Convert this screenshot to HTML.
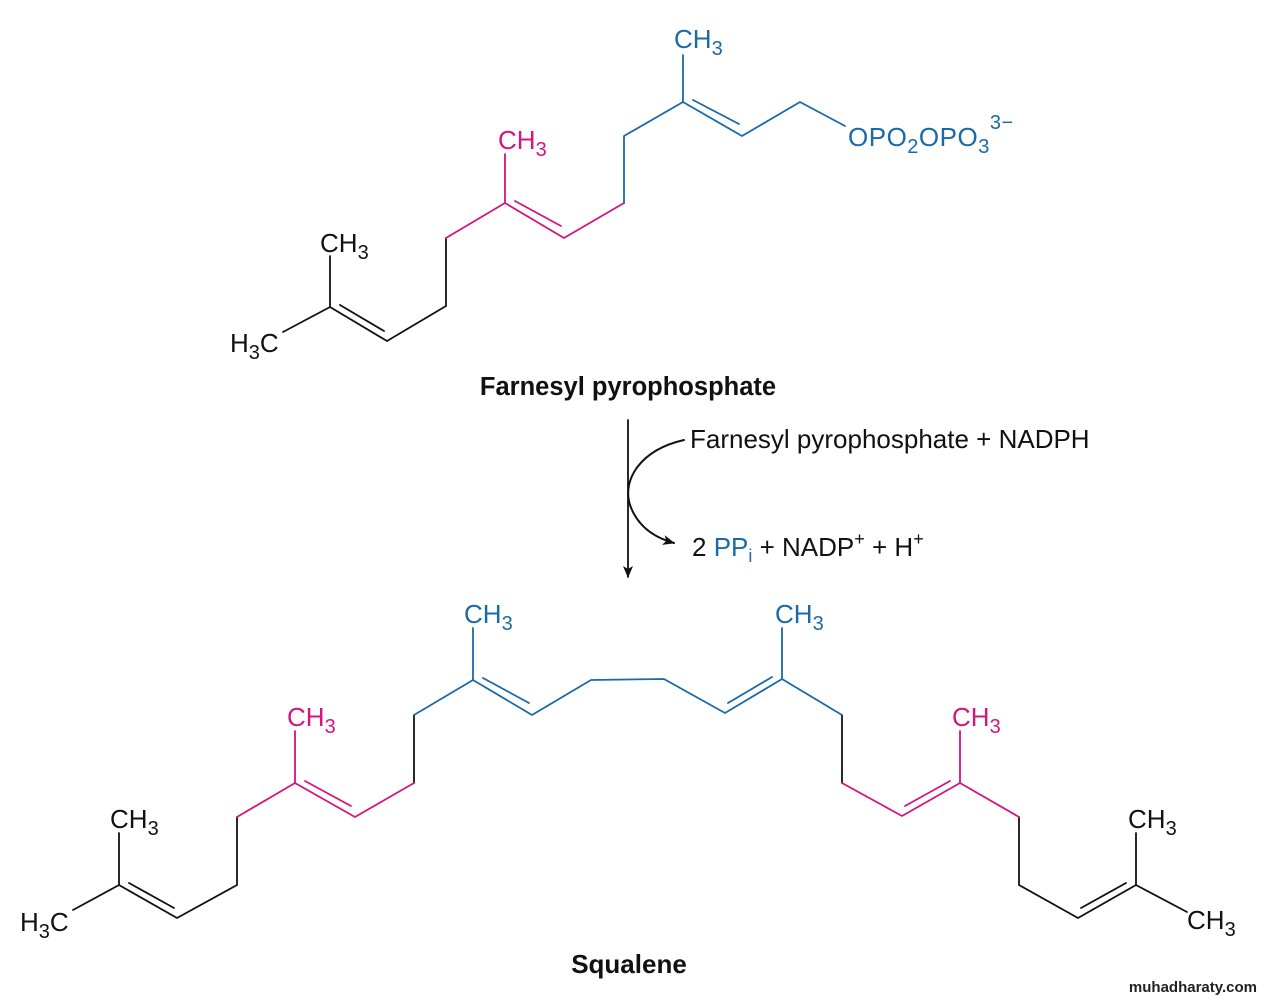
<!DOCTYPE html>
<html><head><meta charset="utf-8"><style>
html,body{margin:0;padding:0;background:#fff;}
svg{display:block;}
text{font-family:"Liberation Sans",sans-serif;}
</style></head><body>
<svg width="1264" height="1000" viewBox="0 0 1264 1000" xmlns="http://www.w3.org/2000/svg">
<defs>
<marker id="ah" markerWidth="14" markerHeight="14" refX="11" refY="6" orient="auto" markerUnits="userSpaceOnUse">
<path d="M0,1 L12,6 L0,11 L3,6 Z" fill="#111"/></marker>
</defs>
<g fill="none" stroke-width="1.8" stroke-linecap="round" stroke-linejoin="round">
<g stroke="#111">
<polyline points="283,332 330,307 387,341 446,306 446,238"/>
<line x1="330" y1="307" x2="330" y2="256"/>
<line x1="340" y1="305" x2="384" y2="331"/>
</g>
<g stroke="#d4157f">
<polyline points="446,238 505,203 564,238 624,203"/>
<line x1="505" y1="203" x2="505" y2="154"/>
<line x1="515" y1="201" x2="561" y2="226"/>
</g>
<g stroke="#1a6aa8">
<polyline points="624,203 624,136 683,102 742,136 800,102 845,126"/>
<line x1="683" y1="102" x2="683" y2="55"/>
<line x1="693" y1="100" x2="739" y2="124"/>
</g>
<g stroke="#111">
<polyline points="73,910 119,885 177,918 237,885 237,817"/>
<line x1="119" y1="885" x2="119" y2="833"/>
<line x1="129" y1="883" x2="174" y2="908"/>
<polyline points="414,783 414,715"/>
<polyline points="842,715 842,783"/>
<polyline points="1019,817 1019,885 1078,918 1136,885 1187,912"/>
<line x1="1136" y1="885" x2="1136" y2="833"/>
<line x1="1081" y1="908" x2="1126" y2="883"/>
</g>
<g stroke="#d4157f">
<polyline points="237,817 295,783 355,817 414,783"/>
<line x1="295" y1="783" x2="295" y2="731"/>
<line x1="305" y1="781" x2="351" y2="806"/>
<polyline points="842,783 902,816 960,783 1019,817"/>
<line x1="960" y1="783" x2="960" y2="731"/>
<line x1="905" y1="806" x2="950" y2="781"/>
</g>
<g stroke="#1a6aa8">
<polyline points="414,715 473,680 532,715 591,680 664,679 725,713 782,679 842,715"/>
<line x1="473" y1="680" x2="473" y2="628"/>
<line x1="483" y1="678" x2="529" y2="703"/>
<line x1="782" y1="679" x2="782" y2="628"/>
<line x1="728" y1="703" x2="772" y2="677"/>
</g>
<line x1="628" y1="420" x2="628" y2="577" stroke="#111" marker-end="url(#ah)"/>
<path d="M684,440 C640,450 622,480 630,505 C637,525 652,537 674,543" stroke="#111" stroke-width="2" marker-end="url(#ah)"/>
</g>
<g font-size="26">
<text x="230" y="352" fill="#111">H<tspan font-size="20" dy="7">3</tspan><tspan dy="-7">C</tspan></text>
<text x="320" y="252" fill="#111">CH<tspan font-size="20" dy="7">3</tspan></text>
<text x="498" y="149" fill="#d4157f">CH<tspan font-size="20" dy="7">3</tspan></text>
<text x="674" y="48" fill="#1a6aa8">CH<tspan font-size="20" dy="7">3</tspan></text>
<text x="848" y="146" fill="#1a6aa8" letter-spacing="0.5">OPO<tspan font-size="20" dy="7">2</tspan><tspan dy="-7">OPO</tspan><tspan font-size="20" dy="7">3</tspan><tspan font-size="20" dy="-24">3−</tspan></text>
<text x="20" y="931" fill="#111">H<tspan font-size="20" dy="7">3</tspan><tspan dy="-7">C</tspan></text>
<text x="110" y="828" fill="#111">CH<tspan font-size="20" dy="7">3</tspan></text>
<text x="287" y="726" fill="#d4157f">CH<tspan font-size="20" dy="7">3</tspan></text>
<text x="464" y="623" fill="#1a6aa8">CH<tspan font-size="20" dy="7">3</tspan></text>
<text x="775" y="623" fill="#1a6aa8">CH<tspan font-size="20" dy="7">3</tspan></text>
<text x="952" y="726" fill="#d4157f">CH<tspan font-size="20" dy="7">3</tspan></text>
<text x="1128" y="828" fill="#111">CH<tspan font-size="20" dy="7">3</tspan></text>
<text x="1187" y="929" fill="#111">CH<tspan font-size="20" dy="7">3</tspan></text>
</g>
<text x="628" y="395" font-size="25.5" font-weight="bold" text-anchor="middle" fill="#111">Farnesyl pyrophosphate</text>
<text x="690" y="448" font-size="26" fill="#111">Farnesyl pyrophosphate + NADPH</text>
<text x="692" y="556" font-size="26" fill="#111">2 <tspan fill="#1a6aa8">PP</tspan><tspan fill="#1a6aa8" font-size="18" dy="6">i</tspan><tspan dy="-6"> + NADP</tspan><tspan font-size="18" dy="-11">+</tspan><tspan dy="11"> + H</tspan><tspan font-size="18" dy="-11">+</tspan></text>
<text x="629" y="973" font-size="26" font-weight="bold" text-anchor="middle" fill="#111">Squalene</text>
<text x="1257" y="992" font-size="15" font-weight="bold" text-anchor="end" fill="#222">muhadharaty.com</text>
</svg>
</body></html>
